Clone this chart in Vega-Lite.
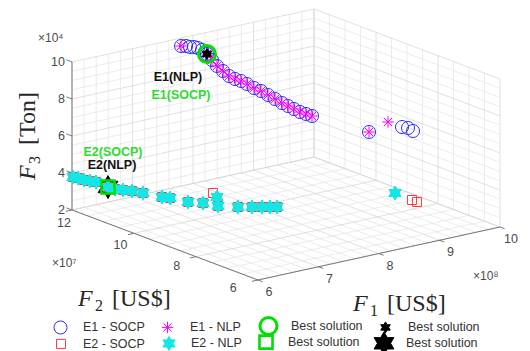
{
  "$schema": "https://vega.github.io/schema/vega-lite/v6.json",
  "width": 530,
  "height": 351,
  "autosize": "none",
  "padding": 0,
  "background": "white",
  "config": {"view": {"stroke": null}},
  "resolve": {
    "scale": {"shape": "independent", "fill": "independent", "stroke": "independent", "size": "independent", "strokeWidth": "independent"},
    "legend": {"shape": "independent", "fill": "independent", "stroke": "independent", "size": "independent", "strokeWidth": "independent"}
  },
  "datasets": {
    "grid": [
      {"ax": "F1", "v": [6, 6.2, 6.4, 6.6, 6.8, 7, 7.2, 7.4, 7.6, 7.8, 8, 8.2, 8.4, 8.6, 8.8, 9, 9.2, 9.4, 9.6, 9.8, 10]},
      {"ax": "F2", "v": [6, 6.5, 7, 7.5, 8, 8.5, 9, 9.5, 10, 10.5, 11, 11.5, 12]},
      {"ax": "F3", "v": [2, 2.5, 3, 3.5, 4, 4.5, 5, 5.5, 6, 6.5, 7, 7.5, 8, 8.5, 9, 9.5, 10]}
    ],
    "ticks": [
      {"ax": "F1", "v": [6, 7, 8, 9, 10]},
      {"ax": "F2", "v": [6, 8, 10, 12]},
      {"ax": "F3", "v": [2, 4, 6, 8, 10]}
    ],
    "pts": [
      {"s": "E1 - SOCP", "F1": 758300000, "F2": 115720000, "F3": 100000},
      {"s": "E1 - SOCP", "F1": 766100000, "F2": 115630000, "F3": 99500},
      {"s": "E1 - SOCP", "F1": 770000000, "F2": 115120000, "F3": 99000},
      {"s": "E1 - SOCP", "F1": 776800000, "F2": 115140000, "F3": 98500},
      {"s": "E1 - SOCP", "F1": 780700000, "F2": 114630000, "F3": 98000},
      {"s": "E1 - SOCP", "F1": 784500000, "F2": 114070000, "F3": 97000},
      {"s": "E1 - SOCP", "F1": 786300000, "F2": 112820000, "F3": 95500},
      {"s": "E1 - SOCP", "F1": 785100000, "F2": 110960000, "F3": 93500},
      {"s": "E1 - SOCP", "F1": 784000000, "F2": 109140000, "F3": 91500},
      {"s": "E1 - SOCP", "F1": 784100000, "F2": 107220000, "F3": 90000},
      {"s": "E1 - SOCP", "F1": 786800000, "F2": 105800000, "F3": 88000},
      {"s": "E1 - SOCP", "F1": 792400000, "F2": 104970000, "F3": 86500},
      {"s": "E1 - SOCP", "F1": 800800000, "F2": 104680000, "F3": 85000},
      {"s": "E1 - SOCP", "F1": 809000000, "F2": 104350000, "F3": 83000},
      {"s": "E1 - SOCP", "F1": 815500000, "F2": 103350000, "F3": 81000},
      {"s": "E1 - SOCP", "F1": 824800000, "F2": 102900000, "F3": 79000},
      {"s": "E1 - SOCP", "F1": 831300000, "F2": 101910000, "F3": 77000},
      {"s": "E1 - SOCP", "F1": 837800000, "F2": 100910000, "F3": 75000},
      {"s": "E1 - SOCP", "F1": 844200000, "F2": 99920000, "F3": 73000},
      {"s": "E1 - SOCP", "F1": 852400000, "F2": 99590000, "F3": 71000},
      {"s": "E1 - SOCP", "F1": 858100000, "F2": 98760000, "F3": 69500},
      {"s": "E1 - SOCP", "F1": 863700000, "F2": 97920000, "F3": 68000},
      {"s": "E1 - SOCP", "F1": 872200000, "F2": 97630000, "F3": 66500},
      {"s": "E1 - SOCP", "F1": 880600000, "F2": 97340000, "F3": 65000},
      {"s": "E1 - SOCP", "F1": 947100000, "F2": 91930000, "F3": 55000},
      {"s": "E1 - SOCP", "F1": 969800000, "F2": 85710000, "F3": 60000},
      {"s": "E1 - SOCP", "F1": 973300000, "F2": 84460000, "F3": 60000},
      {"s": "E1 - SOCP", "F1": 970200000, "F2": 82240000, "F3": 60000},
      {"s": "E1 - NLP", "F1": 758300000, "F2": 115720000, "F3": 100000},
      {"s": "E1 - NLP", "F1": 786300000, "F2": 112820000, "F3": 95500},
      {"s": "E1 - NLP", "F1": 785100000, "F2": 110960000, "F3": 93500},
      {"s": "E1 - NLP", "F1": 784000000, "F2": 109140000, "F3": 91500},
      {"s": "E1 - NLP", "F1": 784100000, "F2": 107220000, "F3": 90000},
      {"s": "E1 - NLP", "F1": 786800000, "F2": 105800000, "F3": 88000},
      {"s": "E1 - NLP", "F1": 792400000, "F2": 104970000, "F3": 86500},
      {"s": "E1 - NLP", "F1": 800800000, "F2": 104680000, "F3": 85000},
      {"s": "E1 - NLP", "F1": 809000000, "F2": 104350000, "F3": 83000},
      {"s": "E1 - NLP", "F1": 815500000, "F2": 103350000, "F3": 81000},
      {"s": "E1 - NLP", "F1": 824800000, "F2": 102900000, "F3": 79000},
      {"s": "E1 - NLP", "F1": 831300000, "F2": 101910000, "F3": 77000},
      {"s": "E1 - NLP", "F1": 837800000, "F2": 100910000, "F3": 75000},
      {"s": "E1 - NLP", "F1": 844200000, "F2": 99920000, "F3": 73000},
      {"s": "E1 - NLP", "F1": 852400000, "F2": 99590000, "F3": 71000},
      {"s": "E1 - NLP", "F1": 858100000, "F2": 98760000, "F3": 69500},
      {"s": "E1 - NLP", "F1": 863700000, "F2": 97920000, "F3": 68000},
      {"s": "E1 - NLP", "F1": 872200000, "F2": 97630000, "F3": 66500},
      {"s": "E1 - NLP", "F1": 880600000, "F2": 97340000, "F3": 65000},
      {"s": "E1 - NLP", "F1": 947100000, "F2": 91930000, "F3": 55000},
      {"s": "E1 - NLP", "F1": 969000000, "F2": 90080000, "F3": 60000},
      {"s": "Best E2 - NLP", "F1": 626900000, "F2": 113640000, "F3": 34500},
      {"s": "E2 - SOCP", "F1": 600100000, "F2": 119710000, "F3": 38000},
      {"s": "E2 - SOCP", "F1": 607700000, "F2": 119570000, "F3": 37000},
      {"s": "E2 - SOCP", "F1": 611000000, "F2": 118280000, "F3": 36500},
      {"s": "E2 - SOCP", "F1": 617100000, "F2": 117530000, "F3": 36000},
      {"s": "E2 - SOCP", "F1": 623100000, "F2": 116780000, "F3": 35500},
      {"s": "E2 - SOCP", "F1": 626900000, "F2": 113640000, "F3": 34500},
      {"s": "E2 - SOCP", "F1": 631300000, "F2": 112230000, "F3": 34000},
      {"s": "E2 - SOCP", "F1": 639400000, "F2": 111240000, "F3": 33500},
      {"s": "E2 - SOCP", "F1": 648600000, "F2": 110130000, "F3": 33000},
      {"s": "E2 - SOCP", "F1": 657100000, "F2": 108250000, "F3": 32500},
      {"s": "E2 - SOCP", "F1": 671000000, "F2": 104830000, "F3": 31500},
      {"s": "E2 - SOCP", "F1": 679200000, "F2": 103840000, "F3": 31000},
      {"s": "E2 - SOCP", "F1": 692000000, "F2": 100540000, "F3": 30000},
      {"s": "E2 - SOCP", "F1": 707500000, "F2": 98720000, "F3": 29500},
      {"s": "E2 - SOCP", "F1": 717400000, "F2": 97440000, "F3": 35000},
      {"s": "E2 - SOCP", "F1": 717400000, "F2": 95810000, "F3": 29000},
      {"s": "E2 - SOCP", "F1": 738100000, "F2": 93400000, "F3": 28500},
      {"s": "E2 - SOCP", "F1": 755300000, "F2": 92240000, "F3": 28000},
      {"s": "E2 - SOCP", "F1": 768300000, "F2": 91550000, "F3": 27500},
      {"s": "E2 - SOCP", "F1": 779200000, "F2": 91110000, "F3": 27000},
      {"s": "E2 - SOCP", "F1": 786600000, "F2": 90280000, "F3": 27000},
      {"s": "E2 - SOCP", "F1": 947000000, "F2": 78050000, "F3": 27000},
      {"s": "E2 - SOCP", "F1": 946700000, "F2": 76380000, "F3": 27000},
      {"s": "E2 - NLP", "F1": 600100000, "F2": 119710000, "F3": 38000},
      {"s": "E2 - NLP", "F1": 607700000, "F2": 119570000, "F3": 37000},
      {"s": "E2 - NLP", "F1": 611000000, "F2": 118280000, "F3": 36500},
      {"s": "E2 - NLP", "F1": 617100000, "F2": 117530000, "F3": 36000},
      {"s": "E2 - NLP", "F1": 623100000, "F2": 116780000, "F3": 35500},
      {"s": "E2 - NLP", "F1": 626900000, "F2": 113640000, "F3": 34500},
      {"s": "E2 - NLP", "F1": 631300000, "F2": 112230000, "F3": 34000},
      {"s": "E2 - NLP", "F1": 639400000, "F2": 111240000, "F3": 33500},
      {"s": "E2 - NLP", "F1": 648600000, "F2": 110130000, "F3": 33000},
      {"s": "E2 - NLP", "F1": 657100000, "F2": 108250000, "F3": 32500},
      {"s": "E2 - NLP", "F1": 671000000, "F2": 104830000, "F3": 31500},
      {"s": "E2 - NLP", "F1": 679200000, "F2": 103840000, "F3": 31000},
      {"s": "E2 - NLP", "F1": 692000000, "F2": 100540000, "F3": 30000},
      {"s": "E2 - NLP", "F1": 707500000, "F2": 98720000, "F3": 29500},
      {"s": "E2 - NLP", "F1": 720800000, "F2": 96800000, "F3": 33000},
      {"s": "E2 - NLP", "F1": 717400000, "F2": 95810000, "F3": 29000},
      {"s": "E2 - NLP", "F1": 738100000, "F2": 93400000, "F3": 28500},
      {"s": "E2 - NLP", "F1": 755300000, "F2": 92240000, "F3": 28000},
      {"s": "E2 - NLP", "F1": 768300000, "F2": 91550000, "F3": 27500},
      {"s": "E2 - NLP", "F1": 779200000, "F2": 91110000, "F3": 27000},
      {"s": "E2 - NLP", "F1": 786600000, "F2": 90280000, "F3": 27000},
      {"s": "E2 - NLP", "F1": 933300000, "F2": 80850000, "F3": 30000},
      {"s": "Best E2 - SOCP", "F1": 626900000, "F2": 113640000, "F3": 34500},
      {"s": "Best E1 - NLP", "F1": 786300000, "F2": 112820000, "F3": 95500},
      {"s": "Best E1 - SOCP", "F1": 786300000, "F2": 112820000, "F3": 95500}
    ]
  },
  "layer": [
    {
      "data": {"name": "grid"},
      "transform": [
        {"flatten": ["v"]},
        {"calculate": "datum.ax=='F1' ? datum.v : (datum.ax=='F2' ? 10 : 6)", "as": "a1"},
        {"calculate": "datum.ax=='F2' ? datum.v : 12", "as": "a2"},
        {"calculate": "datum.ax=='F3' ? datum.v : 2", "as": "a3"},
        {"calculate": "datum.ax=='F1' ? datum.v : 10", "as": "b1"},
        {"calculate": "datum.ax=='F2' ? datum.v : 12", "as": "b2"},
        {"calculate": "datum.ax=='F3' ? datum.v : 10", "as": "b3"},
        {"calculate": "258+60.5*(datum.a1-6)-31*(datum.a2-6)", "as": "sx"},
        {"calculate": "280-13.25*(datum.a1-6)-11.67*(datum.a2-6)-18.5*(datum.a3-2)", "as": "sy"},
        {"calculate": "258+60.5*(datum.b1-6)-31*(datum.b2-6)", "as": "sx2"},
        {"calculate": "280-13.25*(datum.b1-6)-11.67*(datum.b2-6)-18.5*(datum.b3-2)", "as": "sy2"}
      ],
      "mark": {"type": "rule", "strokeWidth": 0.7},
      "encoding": {
        "x": {"field": "sx", "type": "quantitative", "scale": {"domain": [0, 530], "nice": false, "zero": false}, "axis": null},
        "y": {"field": "sy", "type": "quantitative", "scale": {"domain": [0, 351], "nice": false, "zero": false, "reverse": true}, "axis": null},
        "x2": {"field": "sx2"},
        "y2": {"field": "sy2"},
        "color": {"condition": {"test": "(datum.ax=='F1' && datum.v%1==0) || (datum.ax!='F1' && datum.v%2==0)", "value": "#d2d2d2"}, "value": "#e4e4e4"}
      }
    },
    {
      "data": {"name": "grid"},
      "transform": [
        {"flatten": ["v"]},
        {"calculate": "datum.ax=='F1' ? datum.v : (datum.ax=='F2' ? 6 : 10)", "as": "a1"},
        {"calculate": "datum.ax=='F2' ? datum.v : 6", "as": "a2"},
        {"calculate": "datum.ax=='F3' ? datum.v : 2", "as": "a3"},
        {"calculate": "datum.ax=='F1' ? datum.v : 10", "as": "b1"},
        {"calculate": "datum.ax=='F2' ? datum.v : 12", "as": "b2"},
        {"calculate": "datum.ax=='F3' ? datum.v : 2", "as": "b3"},
        {"calculate": "258+60.5*(datum.a1-6)-31*(datum.a2-6)", "as": "sx"},
        {"calculate": "280-13.25*(datum.a1-6)-11.67*(datum.a2-6)-18.5*(datum.a3-2)", "as": "sy"},
        {"calculate": "258+60.5*(datum.b1-6)-31*(datum.b2-6)", "as": "sx2"},
        {"calculate": "280-13.25*(datum.b1-6)-11.67*(datum.b2-6)-18.5*(datum.b3-2)", "as": "sy2"}
      ],
      "mark": {"type": "rule", "strokeWidth": 0.7},
      "encoding": {
        "x": {"field": "sx", "type": "quantitative", "axis": null},
        "y": {"field": "sy", "type": "quantitative", "axis": null},
        "x2": {"field": "sx2"},
        "y2": {"field": "sy2"},
        "color": {"condition": {"test": "(datum.ax=='F1' && datum.v%1==0) || (datum.ax!='F1' && datum.v%2==0)", "value": "#d2d2d2"}, "value": "#e4e4e4"}
      }
    },
    {
      "data": {"values": [{"ax": "F1", "lo": 6, "hi": 10}, {"ax": "F2", "lo": 6, "hi": 12}, {"ax": "F3", "lo": 2, "hi": 10}]},
      "transform": [
        {"calculate": "datum.ax=='F1' ? datum.lo : 6", "as": "a1"},
        {"calculate": "datum.ax=='F2' ? datum.lo : (datum.ax=='F1' ? 6 : 12)", "as": "a2"},
        {"calculate": "datum.ax=='F3' ? datum.lo : 2", "as": "a3"},
        {"calculate": "datum.ax=='F1' ? datum.hi : 6", "as": "b1"},
        {"calculate": "datum.ax=='F2' ? datum.hi : (datum.ax=='F1' ? 6 : 12)", "as": "b2"},
        {"calculate": "datum.ax=='F3' ? datum.hi : 2", "as": "b3"},
        {"calculate": "258+60.5*(datum.a1-6)-31*(datum.a2-6)", "as": "sx"},
        {"calculate": "280-13.25*(datum.a1-6)-11.67*(datum.a2-6)-18.5*(datum.a3-2)", "as": "sy"},
        {"calculate": "258+60.5*(datum.b1-6)-31*(datum.b2-6)", "as": "sx2"},
        {"calculate": "280-13.25*(datum.b1-6)-11.67*(datum.b2-6)-18.5*(datum.b3-2)", "as": "sy2"}
      ],
      "mark": {"type": "rule", "strokeWidth": 0.9, "color": "#6a6a6a"},
      "encoding": {
        "x": {"field": "sx", "type": "quantitative", "axis": null},
        "y": {"field": "sy", "type": "quantitative", "axis": null},
        "x2": {"field": "sx2"},
        "y2": {"field": "sy2"}
      }
    },
    {
      "data": {"name": "ticks"},
      "transform": [
        {"flatten": ["v"]},
        {"calculate": "datum.ax=='F1' ? datum.v : 6", "as": "a1"},
        {"calculate": "datum.ax=='F2' ? datum.v : (datum.ax=='F1' ? 6 : 12)", "as": "a2"},
        {"calculate": "datum.ax=='F3' ? datum.v : 2", "as": "a3"},
        {"calculate": "datum.ax=='F1' ? datum.v : (datum.ax=='F2' ? 5.9 : 6)", "as": "b1"},
        {"calculate": "datum.ax=='F2' ? datum.v : (datum.ax=='F1' ? 5.85 : 12.18)", "as": "b2"},
        {"calculate": "datum.a3", "as": "b3"},
        {"calculate": "258+60.5*(datum.a1-6)-31*(datum.a2-6)", "as": "sx"},
        {"calculate": "280-13.25*(datum.a1-6)-11.67*(datum.a2-6)-18.5*(datum.a3-2)", "as": "sy"},
        {"calculate": "258+60.5*(datum.b1-6)-31*(datum.b2-6)", "as": "sx2"},
        {"calculate": "280-13.25*(datum.b1-6)-11.67*(datum.b2-6)-18.5*(datum.b3-2)", "as": "sy2"}
      ],
      "mark": {"type": "rule", "strokeWidth": 0.9, "color": "#6a6a6a"},
      "encoding": {
        "x": {"field": "sx", "type": "quantitative", "axis": null},
        "y": {"field": "sy", "type": "quantitative", "axis": null},
        "x2": {"field": "sx2"},
        "y2": {"field": "sy2"}
      }
    },
    {
      "data": {"name": "ticks"},
      "transform": [
        {"flatten": ["v"]},
        {"filter": "datum.ax == 'F1'"},
        {"calculate": "datum.v", "as": "a1"},
        {"calculate": "5.645", "as": "a2"},
        {"calculate": "1.575", "as": "a3"},
        {"calculate": "258+60.5*(datum.a1-6)-31*(datum.a2-6)", "as": "sx"},
        {"calculate": "280-13.25*(datum.a1-6)-11.67*(datum.a2-6)-18.5*(datum.a3-2)", "as": "sy"}
      ],
      "mark": {"type": "text", "font": "Liberation Sans", "fontSize": 12.5, "color": "#4a4a4a", "align": "center", "baseline": "middle"},
      "encoding": {
        "x": {"field": "sx", "type": "quantitative", "axis": null},
        "y": {"field": "sy", "type": "quantitative", "axis": null},
        "text": {"field": "v", "type": "quantitative"}
      }
    },
    {
      "data": {"name": "ticks"},
      "transform": [
        {"flatten": ["v"]},
        {"filter": "datum.ax == 'F2'"},
        {"calculate": "6", "as": "a1"},
        {"calculate": "datum.v", "as": "a2"},
        {"calculate": "2", "as": "a3"},
        {"calculate": "258+60.5*(datum.a1-6)-31*(datum.a2-6) - 8 - (12-datum.v)*2.8", "as": "sx"},
        {"calculate": "280-13.25*(datum.a1-6)-11.67*(datum.a2-6)-18.5*(datum.a3-2) + 13.5 - (12-datum.v)*1.0", "as": "sy"}
      ],
      "mark": {"type": "text", "font": "Liberation Sans", "fontSize": 12.5, "color": "#4a4a4a", "align": "center", "baseline": "middle"},
      "encoding": {
        "x": {"field": "sx", "type": "quantitative", "axis": null},
        "y": {"field": "sy", "type": "quantitative", "axis": null},
        "text": {"field": "v", "type": "quantitative"}
      }
    },
    {
      "data": {"name": "ticks"},
      "transform": [
        {"flatten": ["v"]},
        {"filter": "datum.ax == 'F3'"},
        {"calculate": "5.884", "as": "a1"},
        {"calculate": "12", "as": "a2"},
        {"calculate": "datum.v + 0.1", "as": "a3"},
        {"calculate": "258+60.5*(datum.a1-6)-31*(datum.a2-6)", "as": "sx"},
        {"calculate": "280-13.25*(datum.a1-6)-11.67*(datum.a2-6)-18.5*(datum.a3-2)", "as": "sy"}
      ],
      "mark": {"type": "text", "font": "Liberation Sans", "fontSize": 12.5, "color": "#4a4a4a", "align": "right", "baseline": "middle"},
      "encoding": {
        "x": {"field": "sx", "type": "quantitative", "axis": null},
        "y": {"field": "sy", "type": "quantitative", "axis": null},
        "text": {"field": "v", "type": "quantitative"}
      }
    },
    {
      "data": {"values": [
        {"t": "×10⁴", "a1": 5.438, "a2": 12, "a3": 11.484},
        {"t": "×10⁷", "a1": 4.208, "a2": 9.148, "a3": 2},
        {"t": "×10⁸", "a1": 8.247, "a2": 3.449, "a3": 2}
      ]},
      "transform": [
        {"calculate": "258+60.5*(datum.a1-6)-31*(datum.a2-6)", "as": "sx"},
        {"calculate": "280-13.25*(datum.a1-6)-11.67*(datum.a2-6)-18.5*(datum.a3-2)", "as": "sy"}
      ],
      "mark": {"type": "text", "font": "Liberation Sans", "fontSize": 12, "color": "#4a4a4a", "align": "left", "baseline": "alphabetic"},
      "encoding": {
        "x": {"field": "sx", "type": "quantitative", "axis": null},
        "y": {"field": "sy", "type": "quantitative", "axis": null},
        "text": {"field": "t"}
      }
    },
    {
      "data": {"values": [
        {"n": "1", "a1": 6.623, "a2": 2.636, "a3": 2},
        {"n": "2", "a1": 3.888, "a2": 6.169, "a3": 2}
      ]},
      "transform": [
        {"calculate": "258+60.5*(datum.a1-6)-31*(datum.a2-6)", "as": "sx"},
        {"calculate": "280-13.25*(datum.a1-6)-11.67*(datum.a2-6)-18.5*(datum.a3-2)", "as": "sy"}
      ],
      "layer": [
        {
          "mark": {"type": "text", "font": "Liberation Serif", "fontStyle": "italic", "fontSize": 24, "color": "#262626", "align": "left", "baseline": "alphabetic", "dx": -47},
          "encoding": {
            "x": {"field": "sx", "type": "quantitative", "axis": null},
            "y": {"field": "sy", "type": "quantitative", "axis": null},
            "text": {"value": "F"}
          }
        },
        {
          "mark": {"type": "text", "font": "Liberation Serif", "fontSize": 16, "color": "#262626", "align": "left", "baseline": "alphabetic", "dx": -30, "dy": 5},
          "encoding": {
            "x": {"field": "sx", "type": "quantitative", "axis": null},
            "y": {"field": "sy", "type": "quantitative", "axis": null},
            "text": {"field": "n"}
          }
        },
        {
          "mark": {"type": "text", "font": "Liberation Serif", "fontSize": 24, "color": "#262626", "align": "left", "baseline": "alphabetic", "dx": -13},
          "encoding": {
            "x": {"field": "sx", "type": "quantitative", "axis": null},
            "y": {"field": "sy", "type": "quantitative", "axis": null},
            "text": {"value": "[US$]"}
          }
        }
      ]
    },
    {
      "data": {"values": [{"n": "3", "a1": 5.388, "a2": 12, "a3": 6.49}]},
      "transform": [
        {"calculate": "258+60.5*(datum.a1-6)-31*(datum.a2-6)", "as": "sx"},
        {"calculate": "280-13.25*(datum.a1-6)-11.67*(datum.a2-6)-18.5*(datum.a3-2)", "as": "sy"}
      ],
      "layer": [
        {
          "mark": {"type": "text", "font": "Liberation Serif", "fontStyle": "italic", "fontSize": 24, "color": "#262626", "align": "left", "baseline": "alphabetic", "dx": -45, "angle": 270},
          "encoding": {
            "x": {"field": "sx", "type": "quantitative", "axis": null},
            "y": {"field": "sy", "type": "quantitative", "axis": null},
            "text": {"value": "F"}
          }
        },
        {
          "mark": {"type": "text", "font": "Liberation Serif", "fontSize": 16, "color": "#262626", "align": "left", "baseline": "alphabetic", "dx": -29, "dy": 5, "angle": 270},
          "encoding": {
            "x": {"field": "sx", "type": "quantitative", "axis": null},
            "y": {"field": "sy", "type": "quantitative", "axis": null},
            "text": {"field": "n"}
          }
        },
        {
          "mark": {"type": "text", "font": "Liberation Serif", "fontSize": 24, "color": "#262626", "align": "left", "baseline": "alphabetic", "dx": -10, "angle": 270},
          "encoding": {
            "x": {"field": "sx", "type": "quantitative", "axis": null},
            "y": {"field": "sy", "type": "quantitative", "axis": null},
            "text": {"value": "[Ton]"}
          }
        }
      ]
    },
    {
      "data": {"values": [
        {"t": "E1(NLP)", "a1": 7.204, "a2": 10.931, "a3": 9.0},
        {"t": "E1(SOCP)", "a1": 7.249, "a2": 10.922, "a3": 8.0},
        {"t": "E2(SOCP)", "a1": 6.497, "a2": 11.648, "a3": 5.0},
        {"t": "E2(NLP)", "a1": 6.383, "a2": 11.456, "a3": 4.5}
      ]},
      "transform": [
        {"calculate": "258+60.5*(datum.a1-6)-31*(datum.a2-6)", "as": "sx"},
        {"calculate": "280-13.25*(datum.a1-6)-11.67*(datum.a2-6)-18.5*(datum.a3-2)", "as": "sy"}
      ],
      "mark": {"type": "text", "font": "Liberation Sans", "fontWeight": "bold", "fontSize": 12.5, "align": "center", "baseline": "middle"},
      "encoding": {
        "x": {"field": "sx", "type": "quantitative", "axis": null},
        "y": {"field": "sy", "type": "quantitative", "axis": null},
        "text": {"field": "t"},
        "color": {"condition": {"test": "indexof(datum.t,'SOCP')>=0", "value": "#2fdc2f"}, "value": "#111111"}
      }
    },
    {
      "data": {"name": "pts"},
      "transform": [
        {"filter": "indexof(datum.s,'E1')>=0"},
        {"calculate": "datum.F1/1e8", "as": "a1"},
        {"calculate": "datum.F2/1e7", "as": "a2"},
        {"calculate": "datum.F3/1e4", "as": "a3"},
        {"calculate": "258+60.5*(datum.a1-6)-31*(datum.a2-6)", "as": "sx"},
        {"calculate": "280-13.25*(datum.a1-6)-11.67*(datum.a2-6)-18.5*(datum.a3-2)", "as": "sy"}
      ],
      "mark": {"type": "point", "filled": true, "opacity": 1},
      "encoding": {
        "x": {"field": "sx", "type": "quantitative", "axis": null},
        "y": {"field": "sy", "type": "quantitative", "axis": null},
        "shape": {"field": "s", "type": "nominal",
          "scale": {"domain": ["E1 - SOCP", "E1 - NLP", "Best E1 - SOCP", "Best E1 - NLP"],
            "range": ["circle", "M-1,0L1,0M0,-1L0,1M-0.71,-0.71L0.71,0.71M-0.71,0.71L0.71,-0.71", "circle", "M0,-1L0.289,-0.5L0.866,-0.5L0.577,0L0.866,0.5L0.289,0.5L0,1L-0.289,0.5L-0.866,0.5L-0.577,0L-0.866,-0.5L-0.289,-0.5Z"]},
          "legend": {"orient": "none", "legendX": 50, "legendY": 315, "direction": "horizontal", "columns": 4, "title": null, "labelExpr": "indexof(datum.label,'Best')==0 ? 'Best solution' : datum.label", "labelFont": "Liberation Sans", "labelFontSize": 12.5, "labelColor": "#333333", "labelOffset": 12, "columnPadding": 12}},
        "stroke": {"field": "s", "type": "nominal",
          "scale": {"domain": ["E1 - SOCP", "E1 - NLP", "Best E1 - SOCP", "Best E1 - NLP"],
            "range": ["#2e2ef5", "#ff00ff", "#00e000", "#000000"]},
          "legend": {"orient": "none", "legendX": 50, "legendY": 315, "direction": "horizontal", "columns": 4, "title": null, "labelExpr": "indexof(datum.label,'Best')==0 ? 'Best solution' : datum.label", "labelFont": "Liberation Sans", "labelFontSize": 12.5, "labelColor": "#333333", "labelOffset": 12, "columnPadding": 12}},
        "fill": {"field": "s", "type": "nominal",
          "scale": {"domain": ["E1 - SOCP", "E1 - NLP", "Best E1 - SOCP", "Best E1 - NLP"],
            "range": ["transparent", "transparent", "transparent", "#000000"]},
          "legend": {"orient": "none", "legendX": 50, "legendY": 315, "direction": "horizontal", "columns": 4, "title": null, "labelExpr": "indexof(datum.label,'Best')==0 ? 'Best solution' : datum.label", "labelFont": "Liberation Sans", "labelFontSize": 12.5, "labelColor": "#333333", "labelOffset": 12, "columnPadding": 12}},
        "size": {"field": "s", "type": "nominal",
          "scale": {"type": "ordinal", "domain": ["E1 - SOCP", "E1 - NLP", "Best E1 - SOCP", "Best E1 - NLP"],
            "range": [170, 130, 290, 120]},
          "legend": {"orient": "none", "legendX": 50, "legendY": 315, "direction": "horizontal", "columns": 4, "title": null, "labelExpr": "indexof(datum.label,'Best')==0 ? 'Best solution' : datum.label", "labelFont": "Liberation Sans", "labelFontSize": 12.5, "labelColor": "#333333", "labelOffset": 12, "columnPadding": 12}},
        "strokeWidth": {"field": "s", "type": "nominal",
          "scale": {"type": "ordinal", "domain": ["E1 - SOCP", "E1 - NLP", "Best E1 - SOCP", "Best E1 - NLP"],
            "range": [1, 1, 3, 1]},
          "legend": {"orient": "none", "legendX": 50, "legendY": 315, "direction": "horizontal", "columns": 4, "title": null, "labelExpr": "indexof(datum.label,'Best')==0 ? 'Best solution' : datum.label", "labelFont": "Liberation Sans", "labelFontSize": 12.5, "labelColor": "#333333", "labelOffset": 12, "columnPadding": 12}}
      }
    },
    {
      "data": {"name": "pts"},
      "transform": [
        {"filter": "indexof(datum.s,'E2')>=0"},
        {"calculate": "datum.F1/1e8", "as": "a1"},
        {"calculate": "datum.F2/1e7", "as": "a2"},
        {"calculate": "datum.F3/1e4", "as": "a3"},
        {"calculate": "258+60.5*(datum.a1-6)-31*(datum.a2-6)", "as": "sx"},
        {"calculate": "280-13.25*(datum.a1-6)-11.67*(datum.a2-6)-18.5*(datum.a3-2)", "as": "sy"}
      ],
      "mark": {"type": "point", "filled": true, "opacity": 1},
      "encoding": {
        "x": {"field": "sx", "type": "quantitative", "axis": null},
        "y": {"field": "sy", "type": "quantitative", "axis": null},
        "shape": {"field": "s", "type": "nominal",
          "scale": {"domain": ["E2 - SOCP", "E2 - NLP", "Best E2 - SOCP", "Best E2 - NLP"],
            "range": ["square", "M0,-1L0.289,-0.5L0.866,-0.5L0.577,0L0.866,0.5L0.289,0.5L0,1L-0.289,0.5L-0.866,0.5L-0.577,0L-0.866,-0.5L-0.289,-0.5Z", "square", "M0,-1L0.289,-0.5L0.866,-0.5L0.577,0L0.866,0.5L0.289,0.5L0,1L-0.289,0.5L-0.866,0.5L-0.577,0L-0.866,-0.5L-0.289,-0.5Z"]},
          "legend": {"orient": "none", "legendX": 49, "legendY": 331, "direction": "horizontal", "columns": 4, "title": null, "labelExpr": "indexof(datum.label,'Best')==0 ? 'Best solution' : datum.label", "labelFont": "Liberation Sans", "labelFontSize": 12.5, "labelColor": "#333333", "labelOffset": 10, "columnPadding": 12}},
        "stroke": {"field": "s", "type": "nominal",
          "scale": {"domain": ["E2 - SOCP", "E2 - NLP", "Best E2 - SOCP", "Best E2 - NLP"],
            "range": ["#ff3a3a", "#14e6e6", "#00e000", "#000000"]},
          "legend": {"orient": "none", "legendX": 49, "legendY": 331, "direction": "horizontal", "columns": 4, "title": null, "labelExpr": "indexof(datum.label,'Best')==0 ? 'Best solution' : datum.label", "labelFont": "Liberation Sans", "labelFontSize": 12.5, "labelColor": "#333333", "labelOffset": 10, "columnPadding": 12}},
        "fill": {"field": "s", "type": "nominal",
          "scale": {"domain": ["E2 - SOCP", "E2 - NLP", "Best E2 - SOCP", "Best E2 - NLP"],
            "range": ["transparent", "#14e6e6", "transparent", "#000000"]},
          "legend": {"orient": "none", "legendX": 49, "legendY": 331, "direction": "horizontal", "columns": 4, "title": null, "labelExpr": "indexof(datum.label,'Best')==0 ? 'Best solution' : datum.label", "labelFont": "Liberation Sans", "labelFontSize": 12.5, "labelColor": "#333333", "labelOffset": 10, "columnPadding": 12}},
        "size": {"field": "s", "type": "nominal",
          "scale": {"type": "ordinal", "domain": ["E2 - SOCP", "E2 - NLP", "Best E2 - SOCP", "Best E2 - NLP"],
            "range": [81, 200, 170, 520]},
          "legend": {"orient": "none", "legendX": 49, "legendY": 331, "direction": "horizontal", "columns": 4, "title": null, "labelExpr": "indexof(datum.label,'Best')==0 ? 'Best solution' : datum.label", "labelFont": "Liberation Sans", "labelFontSize": 12.5, "labelColor": "#333333", "labelOffset": 10, "columnPadding": 12}},
        "strokeWidth": {"field": "s", "type": "nominal",
          "scale": {"type": "ordinal", "domain": ["E2 - SOCP", "E2 - NLP", "Best E2 - SOCP", "Best E2 - NLP"],
            "range": [1, 1, 2.6, 1]},
          "legend": {"orient": "none", "legendX": 49, "legendY": 331, "direction": "horizontal", "columns": 4, "title": null, "labelExpr": "indexof(datum.label,'Best')==0 ? 'Best solution' : datum.label", "labelFont": "Liberation Sans", "labelFontSize": 12.5, "labelColor": "#333333", "labelOffset": 10, "columnPadding": 12}}
      }
    }
  ]
}
